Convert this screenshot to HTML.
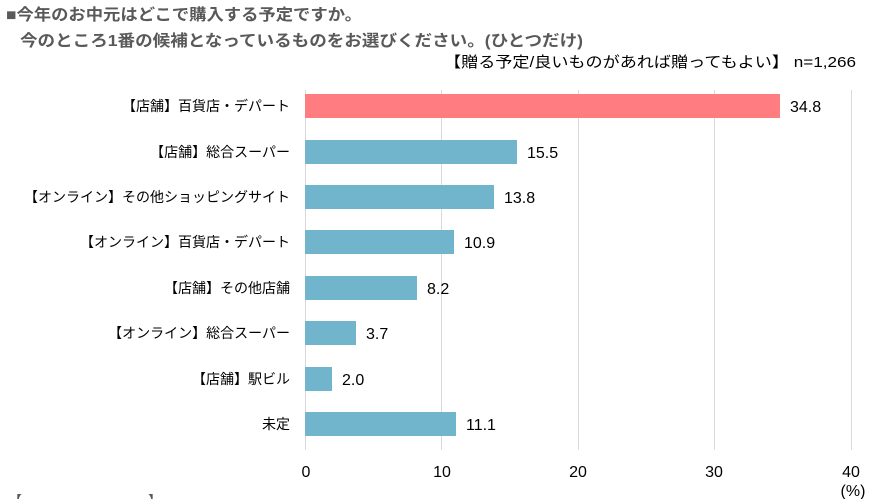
<!DOCTYPE html>
<html><head><meta charset="utf-8"><style>
body{margin:0;width:876px;height:499px;background:#fff;overflow:hidden;font-family:"Liberation Sans","Noto Sans CJK JP",sans-serif;}
</style></head><body>
<svg width="876" height="499" xmlns="http://www.w3.org/2000/svg" font-family="Liberation Sans, Noto Sans CJK JP, sans-serif">
<text x="6" y="20" font-size="16" font-weight="bold" fill="#595959" textLength="356" lengthAdjust="spacingAndGlyphs">■今年のお中元はどこで購入する予定ですか。</text>
<text x="20" y="46" font-size="16" font-weight="bold" fill="#595959" textLength="563" lengthAdjust="spacingAndGlyphs">今のところ1番の候補となっているものをお選びください。(ひとつだけ)</text>
<text x="856" y="67" font-size="15" fill="#000" text-anchor="end" textLength="412" lengthAdjust="spacingAndGlyphs">【贈る予定/良いものがあれば贈ってもよい】 n=1,266</text>
<g stroke="#d9d9d9" stroke-width="1">
<line x1="305.5" y1="90" x2="305.5" y2="450"/>
<line x1="441.5" y1="90" x2="441.5" y2="450"/>
<line x1="578.5" y1="90" x2="578.5" y2="450"/>
<line x1="714.5" y1="90" x2="714.5" y2="450"/>
<line x1="851.5" y1="90" x2="851.5" y2="450"/>
</g>
<g font-size="14" fill="#000">
<rect x="305" y="94" width="475" height="24" fill="#ff7c80"/>
<text x="290" y="111" text-anchor="end">【店舗】百貨店・デパート</text>
<rect x="305" y="140" width="212" height="24" fill="#71b5cc"/>
<text x="290" y="157" text-anchor="end">【店舗】総合スーパー</text>
<rect x="305" y="185" width="189" height="24" fill="#71b5cc"/>
<text x="290" y="202" text-anchor="end">【オンライン】その他ショッピングサイト</text>
<rect x="305" y="230" width="149" height="24" fill="#71b5cc"/>
<text x="290" y="247" text-anchor="end">【オンライン】百貨店・デパート</text>
<rect x="305" y="276" width="112" height="24" fill="#71b5cc"/>
<text x="290" y="293" text-anchor="end">【店舗】その他店舗</text>
<rect x="305" y="321" width="51" height="24" fill="#71b5cc"/>
<text x="290" y="338" text-anchor="end">【オンライン】総合スーパー</text>
<rect x="305" y="367" width="27" height="24" fill="#71b5cc"/>
<text x="290" y="384" text-anchor="end">【店舗】駅ビル</text>
<rect x="305" y="412" width="151" height="24" fill="#71b5cc"/>
<text x="290" y="429" text-anchor="end">未定</text>
</g>
<g font-size="16" fill="#000">
<text x="790" y="112">34.8</text>
<text x="527" y="158">15.5</text>
<text x="504" y="203">13.8</text>
<text x="464" y="248">10.9</text>
<text x="427" y="294">8.2</text>
<text x="366" y="339">3.7</text>
<text x="342" y="385">2.0</text>
<text x="466" y="430">11.1</text>
</g>
<g font-size="16" fill="#000" text-anchor="middle">
<text x="306" y="477">0</text><text x="442" y="477">10</text><text x="578" y="477">20</text><text x="714" y="477">30</text><text x="851" y="477">40</text>
<text x="853" y="496">(%)</text>
</g>
<text x="8" y="506" font-size="14" fill="#595959">【・・・・・・・・・】</text>
</svg>
</body></html>
